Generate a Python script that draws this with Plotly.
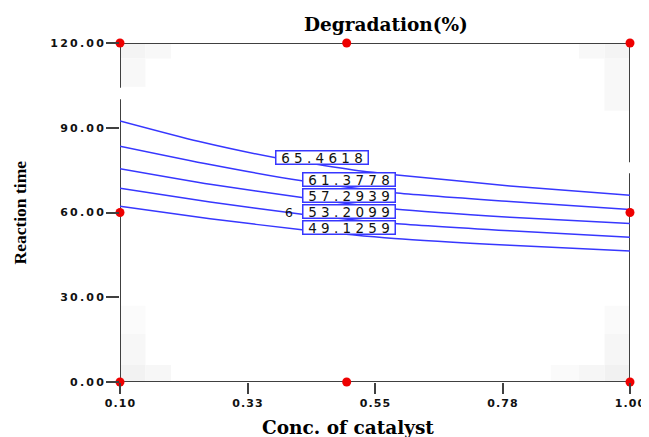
import plotly.graph_objects as go

# ---- data ----
levels = ["65.4618", "61.3778", "57.2939", "53.2099", "49.1259"]

line1_x = [0.10, 0.238, 0.377, 0.541, 0.584, 0.788, 1.00]
line1_y = [92.4, 85.2, 79.3, 74.3, 73.4, 69.4, 66.1]
grid_x = [0.10, 0.259, 0.421, 0.584, 0.788, 1.00]
line2_y = [83.5, 77.0, 71.2, 67.0, 63.9, 61.1]
line3_y = [75.5, 70.0, 65.3, 61.2, 58.3, 56.1]
line4_y = [68.6, 63.7, 59.4, 56.1, 53.5, 51.2]
line5_y = [62.2, 57.8, 53.9, 50.8, 48.4, 46.4]

label_x = [0.456, 0.504, 0.504, 0.504, 0.504]
label_y = [79.4, 71.6, 65.9, 60.2, 54.6]

design_x = [0.10, 0.10, 0.10, 0.50, 0.50, 1.00, 1.00, 1.00]
design_y = [0.0, 60.0, 120.0, 0.0, 120.0, 0.0, 60.0, 120.0]
center_x = [0.50]
center_y = [60.0]
center_reps = "6"

x_ticks = [0.10, 0.325, 0.55, 0.775, 1.00]
x_ticktext = ["0.10", "0.33", "0.55", "0.78", "1.00"]
y_ticks = [0, 30, 60, 90, 120]
y_ticktext = ["0.00", "30.00", "60.00", "90.00", "120.00"]

BLUE = "rgb(55,55,255)"
AX = "#404040"
TS = "\u2009"
HS = "\u200a"

def spaced(s, sep):
    return sep.join(list(s))

fig = go.Figure()

contours = [(line1_x, line1_y), (grid_x, line2_y), (grid_x, line3_y),
            (grid_x, line4_y), (grid_x, line5_y)]
for xs, ys in contours:
    fig.add_trace(go.Scatter(x=xs, y=ys, mode="lines",
                             line=dict(color=BLUE, width=1.5, shape="spline", smoothing=0.6),
                             hoverinfo="skip", showlegend=False))

fig.add_trace(go.Scatter(x=design_x, y=design_y, mode="markers",
                         marker=dict(color="#ee0000", size=9, line=dict(width=0)),
                         cliponaxis=False, showlegend=False, hoverinfo="skip"))

shapes = []
# faint grey corner blocks
greys = [
    (0.10, 0.145, 114.5, 120, "#f4f4f4"), (0.145, 0.19, 114.5, 120, "#f8f8f8"),
    (0.10, 0.145, 104.5, 114.5, "#f8f8f8"),
    (0.955, 1.00, 114.5, 120, "#f4f4f4"), (0.91, 0.955, 114.5, 120, "#f8f8f8"),
    (0.955, 1.00, 96, 114.5, "#f8f8f8"),
    (0.10, 0.145, 0, 6, "#f2f2f2"), (0.145, 0.19, 0, 6, "#f7f7f7"),
    (0.10, 0.145, 6, 17, "#f7f7f7"), (0.10, 0.145, 17, 27, "#fbfbfb"),
    (0.955, 1.00, 0, 6, "#f1f1f1"), (0.91, 0.955, 0, 6, "#f6f6f6"),
    (0.955, 1.00, 6, 17, "#f6f6f6"), (0.955, 1.00, 17, 27, "#fafafa"),
    (0.86, 0.91, 0, 6, "#fafafa"),
]
for x0, x1, y0, y1, c in greys:
    shapes.append(dict(type="rect", xref="x", yref="y", x0=x0, x1=x1, y0=y0, y1=y1,
                       fillcolor=c, line=dict(width=0), layer="below"))

# frame (with the small gaps seen in the reference)
frame = [
    (0.10, 0.0, 1.00, 0.0), (0.10, 120.0, 1.00, 120.0),
    (0.10, 0.0, 0.10, 100.1), (0.10, 104.2, 0.10, 120.0),
    (1.00, 0.0, 1.00, 73.9), (1.00, 77.8, 1.00, 120.0),
]
for x0, y0, x1, y1 in frame:
    shapes.append(dict(type="line", xref="x", yref="y", x0=x0, y0=y0, x1=x1, y1=y1,
                       line=dict(color=AX, width=2), layer="below"))

annotations = []
for lx, ly, txt in zip(label_x, label_y, levels):
    annotations.append(dict(x=lx, y=ly, xref="x", yref="y", text=spaced(txt, " "),
                            showarrow=False, font=dict(family="DejaVu Sans", size=13.5, color="#111"),
                            bgcolor="white", bordercolor=BLUE, borderwidth=1.5, borderpad=0,
                            width=91, height=12, xanchor="center", yanchor="middle"))

# center point replicate count, placed just left of the label box
annotations.append(dict(x=0.408, y=center_y[0], xref="x", yref="y", text=center_reps,
                        showarrow=False, font=dict(family="DejaVu Sans", size=12.5, color="#111"),
                        xanchor="right", yanchor="middle"))

annotations.append(dict(x=0.5, y=1.0, xref="paper", yref="paper", yshift=18.5, xshift=11,
                        text="<b>Degradation(%)</b>", showarrow=False,
                        font=dict(family="DejaVu Serif", size=18.5, color="black"),
                        xanchor="center", yanchor="middle"))
annotations.append(dict(x=0.5, y=0.0, xref="paper", yref="paper", yshift=-45, xshift=-27,
                        text="<b>Conc. of catalyst</b>", showarrow=False,
                        font=dict(family="DejaVu Serif", size=18.5, color="black"),
                        xanchor="center", yanchor="middle"))
annotations.append(dict(x=0.0, y=0.5, xref="paper", yref="paper", xshift=-101, yshift=0,
                        text="<b>Reaction time</b>", showarrow=False, textangle=-90,
                        font=dict(family="Liberation Serif", size=17.5, color="black"),
                        xanchor="center", yanchor="middle"))

fig.add_trace(go.Scatter(x=center_x, y=center_y, mode="markers",
                         marker=dict(color="#ee0000", size=6, symbol="square", line=dict(width=0)),
                         cliponaxis=False, showlegend=False, hoverinfo="skip"))

# the page adds an 8 px body margin, so the figure is 8 px smaller and offset
fig.update_layout(
    width=641, height=429,
    margin=dict(l=112, r=18.5, t=35, b=55),
    paper_bgcolor="white", plot_bgcolor="white",
    shapes=shapes, annotations=annotations,
    xaxis=dict(range=[0.10, 1.00], tickvals=x_ticks,
               ticktext=[spaced(t, HS) for t in x_ticktext],
               ticks="outside", ticklen=11, tickwidth=2, tickcolor=AX,
               showgrid=False, zeroline=False, showline=False, automargin=False,
               ticklabeloverflow="allow",
               tickfont=dict(family="DejaVu Sans", size=11, color="#111", weight="bold")),
    yaxis=dict(range=[0, 120], tickvals=y_ticks,
               ticktext=[spaced(t, TS) for t in y_ticktext],
               ticks="outside", ticklen=13, tickwidth=2, tickcolor=AX,
               showgrid=False, zeroline=False, showline=False, automargin=False,
               tickfont=dict(family="DejaVu Sans", size=11, color="#111", weight="bold")),
)

fig.write_html("out.html")
